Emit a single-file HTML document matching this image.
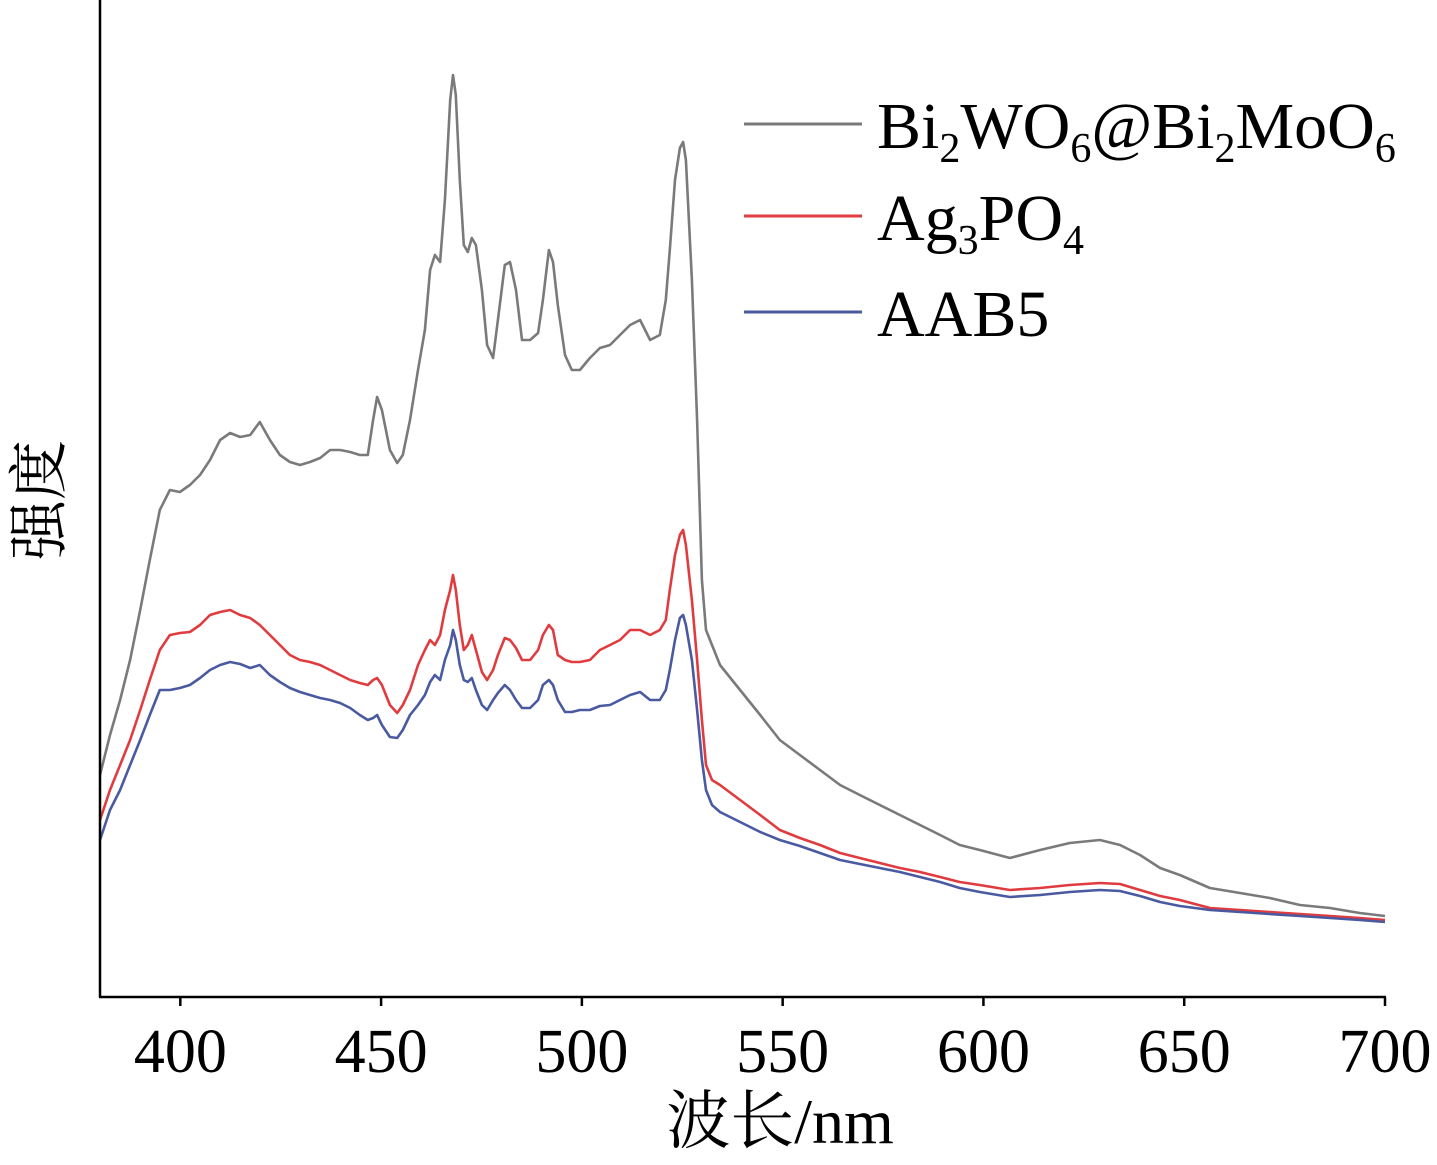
<!DOCTYPE html>
<html><head><meta charset="utf-8"><style>
html,body{margin:0;padding:0;background:#fff;}
svg{display:block;font-family:"Liberation Serif","Noto Serif CJK SC",serif;}
</style></head><body>
<svg id="chart" width="1437" height="1165" viewBox="0 0 1437 1165" xmlns="http://www.w3.org/2000/svg"></svg>
<script>
const wavelengths=[380,382.5,385,387.5,390,392.4,394.9,397.4,399.9,402.4,404.9,407.4,409.9,412.4,414.9,417.4,419.8,422.3,424.8,427.3,429.8,432.3,434.8,437.3,439.8,442.3,444.7,446.7,448,449,450.2,452.2,454,455.4,457.2,459.2,460.9,462.2,463.4,464.7,465.9,467.2,467.9,468.6,469.6,470.6,471.6,472.6,473.6,475.1,476.4,477.9,479.1,480.8,482.1,483.6,485.1,487.1,489.1,490.3,491.8,492.8,494,495.8,497.5,499.5,502,504.5,507,509.5,512,514.5,517,519.4,520.9,521.9,523.2,524.4,525.2,525.9,527.4,528.7,529.9,530.9,532.4,534.4,539.4,544.4,549.3,554.3,559.3,564.3,569.2,574.2,579.2,584.2,589.2,594.1,599.1,606.6,614.1,621.5,629,634,639,644,648.9,656.4,663.9,671.3,678.8,686.3,693.7,700];
const grayValues=[225,265,300,340,390,440,490,510,508,515,525,540,560,567,563,565,578,560,545,538,535,538,542,550,550,548,545,545,580,603,590,550,537,545,580,630,670,730,745,738,800,900,925,905,820,755,748,762,755,710,655,642,680,735,738,710,660,660,667,700,750,738,695,645,630,630,642,652,655,665,675,680,660,665,700,750,820,852,858,840,720,580,420,370,355,335,310,285,260,245,230,215,205,195,185,175,165,155,150,142,150,157,160,155,145,132,125,112,107,102,95,92,87,84];
const redValues=[180,210,235,260,290,320,350,365,367,368,375,385,388,390,385,382,375,365,355,345,340,338,335,330,325,320,317,315,320,322,315,295,287,295,310,335,350,360,355,365,390,410,425,410,375,350,355,365,350,328,320,330,345,362,360,352,340,340,350,365,375,370,345,340,338,338,340,350,355,360,370,370,365,370,380,410,445,465,470,455,400,340,280,235,220,215,200,185,170,162,155,147,142,137,132,128,123,118,115,110,112,115,117,116,110,104,100,92,90,88,86,84,82,80];
const blueValues=[160,190,210,235,260,285,310,310,312,315,322,330,335,338,336,332,335,325,318,312,308,305,302,300,297,292,285,280,282,285,275,263,262,270,285,295,305,318,325,320,340,355,370,360,335,320,318,322,310,295,290,300,307,315,310,300,292,292,300,315,320,315,300,288,288,290,290,294,295,300,305,308,300,300,310,330,360,382,385,375,340,290,240,210,195,188,178,168,160,154,147,140,136,132,128,123,118,112,108,103,105,108,110,109,104,98,94,90,88,86,84,82,80,78];
const xTicks=[400,450,500,550,600,650,700];
const seriesNames=["Bi2WO6@Bi2MoO6","Ag3PO4","AAB5"];

const NS="http://www.w3.org/2000/svg";
const svg=document.getElementById('chart');
const X0=100,X1=1385,Y0=997;
function xs(w){return X0+(w-380)/(700-380)*(X1-X0);}
function ys(v){return 1000-v;}
function mk(tag,attrs,parent){const e=document.createElementNS(NS,tag);for(const k in attrs)e.setAttribute(k,attrs[k]);(parent||svg).appendChild(e);return e;}

function drawSeries(vals,color,name){
  let d='';
  vals.forEach((v,i)=>{d+=(i?'L':'M')+xs(wavelengths[i]).toFixed(1)+','+ys(v).toFixed(1);});
  const p=mk('path',{d:d,fill:'none',stroke:color,'stroke-width':2.6,'stroke-linejoin':'round'});
  
  
}
drawSeries(grayValues,'#7a7a7a','series-bi2wo6-bi2moo6');
drawSeries(redValues,'#e03c3f','series-ag3po4');
drawSeries(blueValues,'#4a5aa0','series-aab5');

const ya=mk('line',{x1:X0,y1:0,x2:X0,y2:Y0,stroke:'#000','stroke-width':2.5});


const xa=mk('line',{x1:X0-1,y1:Y0,x2:X1+1,y2:Y0,stroke:'#000','stroke-width':2.5});


xTicks.forEach(t=>{
  const tk=mk('line',{x1:xs(t),y1:Y0,x2:xs(t),y2:Y0+9,stroke:'#000','stroke-width':2.5});
  
  
  const tl=mk('text',{x:xs(t),y:1072,'text-anchor':'middle','font-size':62});
  tl.textContent=t;
  
  
});
const xt=mk('text',{x:780,y:1143,'text-anchor':'middle','font-size':64});
xt.textContent='波长/nm';


const yt=mk('text',{x:0,y:0,'text-anchor':'middle','font-size':60,transform:'translate(60,500) rotate(-90)'});
yt.textContent='强度';



const legendColors=['#7a7a7a','#e03c3f','#4a5aa0'];
const legendY=[124,216,312];
const legendHtml=['Bi<tspan font-size="42" dy="14">2</tspan><tspan dy="-14">WO</tspan><tspan font-size="42" dy="14">6</tspan><tspan dy="-14">@Bi</tspan><tspan font-size="42" dy="14">2</tspan><tspan dy="-14">MoO</tspan><tspan font-size="42" dy="14">6</tspan>',
'Ag<tspan font-size="42" dy="14">3</tspan><tspan dy="-14">PO</tspan><tspan font-size="42" dy="14">4</tspan>',
'AAB5'];
seriesNames.forEach((n,i)=>{
  const g=mk('g',{});
  
  
  mk('line',{x1:744,y1:legendY[i],x2:862,y2:legendY[i],stroke:legendColors[i],'stroke-width':3},g);
  const t=mk('text',{x:877,y:legendY[i]+24,'font-size':66},g);
  t.innerHTML=legendHtml[i];
});
</script>
</body></html>
